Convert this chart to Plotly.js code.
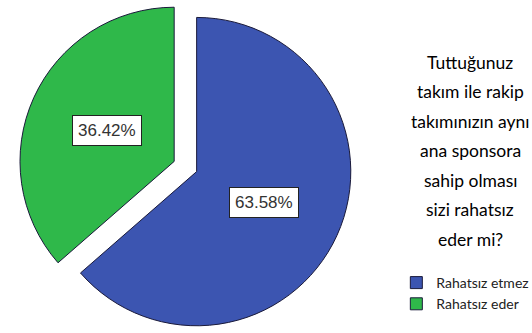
<!DOCTYPE html>
<html>
<head>
<meta charset="utf-8">
<script src="https://cdn.plot.ly/plotly-3.0.1.min.js"></script>
<style>html,body{margin:0;padding:0;background:#fff;}#chart{width:532px;height:333px;}</style>
</head>
<body>
<div id="chart"></div>
<script>
const categories = ['Rahatsız etmez', 'Rahatsız eder'];
const percents = [63.58, 36.42];
const colors = ['#3c55b1', '#2fb84a'];
const titleLines = ['Tuttuğunuz', 'takım ile rakip', 'takımınızın aynı', 'ana sponsora', 'sahip olması', 'sizi rahatsız', 'eder mi?'];

const W = 532, H = 333;
const domainX = [0.035, 0.662];
const pull = 0.08;
const labelFrac = 0.48;
const titleFont = {family: 'Lato, Roboto, Liberation Sans, sans-serif', size: 17.5, color: '#000'};

const titleAnnotations = titleLines.map((t, i) => ({
  x: 0.884, xref: 'paper', xanchor: 'center',
  y: 1 - (62 + i * 29.5) / H, yref: 'paper', yanchor: 'middle',
  text: t, showarrow: false, font: titleFont
}));

const trace = {
  type: 'pie',
  labels: categories,
  values: percents,
  sort: false,
  direction: 'clockwise',
  rotation: 0,
  pull: percents.map(() => pull),
  marker: {colors: colors, line: {color: '#1a1a3a', width: 1}},
  textinfo: 'none',
  hoverinfo: 'label+percent',
  domain: {x: domainX, y: [0, 1]}
};

const layout = {
  width: W, height: H,
  margin: {l: 0, r: 0, t: 0, b: 0, autoexpand: false},
  paper_bgcolor: '#ffffff',
  showlegend: true,
  legend: {
    xref: 'container', yref: 'container',
    x: 0.745, xanchor: 'left', y: 1 - 267 / H, yanchor: 'top',
    font: {family: 'Lato, Roboto, Liberation Sans, sans-serif', size: 14, color: '#222'},
    itemwidth: 30,
    tracegroupgap: 0
  },
  annotations: titleAnnotations.slice()
};

const gd = document.getElementById('chart');
Plotly.newPlot(gd, [trace], layout, {displayModeBar: false, staticPlot: true}).then(() => {
  // percentage labels placed from the library's own pie geometry
  const cd = gd.calcdata[0];
  const cx = cd[0].cx, cy = cd[0].cy, r = cd[0].r;
  const gs = gd._fullLayout._size;
  let cum = 0;
  const total = percents.reduce((a, b) => a + b, 0);
  const labelAnns = percents.map((v) => {
    const theta = 2 * Math.PI * (cum + v / 2) / total;
    cum += v;
    const d = (pull + labelFrac) * r;
    const px = cx + d * Math.sin(theta);
    const py = cy - d * Math.cos(theta);
    return {
      x: (px - gs.l) / gs.w, y: 1 - (py - gs.t) / gs.h, xref: 'paper', yref: 'paper',
      xanchor: 'center', yanchor: 'middle',
      text: v.toFixed(2) + '%', showarrow: false,
      font: {family: 'Liberation Sans, Arial, sans-serif', size: 17, color: '#333'},
      bgcolor: '#ffffff', bordercolor: '#222', borderwidth: 1, borderpad: 5
    };
  });
  return Plotly.relayout(gd, {annotations: titleAnnotations.concat(labelAnns)});
});
</script>
</body>
</html>
